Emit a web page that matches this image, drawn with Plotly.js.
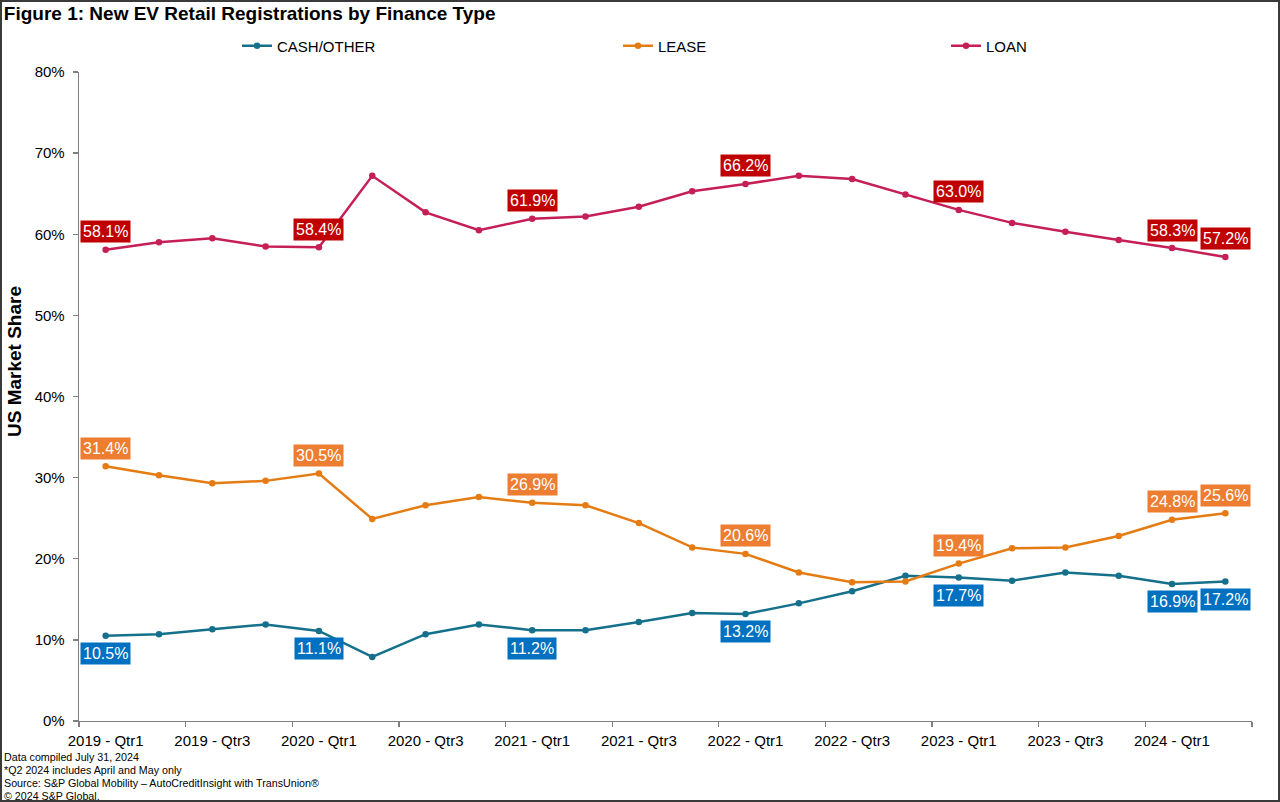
<!DOCTYPE html>
<html>
<head>
<meta charset="utf-8">
<script src="https://cdn.plot.ly/plotly-3.0.1.min.js"></script>
<style>
  html, body { margin: 0; padding: 0; background: #fff; }
  #wrap { position: relative; width: 1280px; height: 802px; }
  #chart { width: 1280px; height: 802px; }
  #frame { position: absolute; left: 0; top: 0; width: 1280px; height: 802px; box-sizing: border-box; border: 2px solid #3a3a3a; pointer-events: none; }
</style>
</head>
<body>
<div id="wrap"><div id="chart"></div><div id="frame"></div></div>
<script>
const categories = [
  "2019 - Qtr1","2019 - Qtr2","2019 - Qtr3","2019 - Qtr4",
  "2020 - Qtr1","2020 - Qtr2","2020 - Qtr3","2020 - Qtr4",
  "2021 - Qtr1","2021 - Qtr2","2021 - Qtr3","2021 - Qtr4",
  "2022 - Qtr1","2022 - Qtr2","2022 - Qtr3","2022 - Qtr4",
  "2023 - Qtr1","2023 - Qtr2","2023 - Qtr3","2023 - Qtr4",
  "2024 - Qtr1","2024 - Qtr2"
];
const cashOther = [10.5,10.7,11.3,11.9,11.1,7.9,10.7,11.9,11.2,11.2,12.2,13.3,13.2,14.5,16.0,17.9,17.7,17.3,18.3,17.9,16.9,17.2];
const lease     = [31.4,30.3,29.3,29.6,30.5,24.9,26.6,27.6,26.9,26.6,24.4,21.4,20.6,18.3,17.1,17.2,19.4,21.3,21.4,22.8,24.8,25.6];
const loan      = [58.1,59.0,59.5,58.5,58.4,67.2,62.7,60.5,61.9,62.2,63.4,65.3,66.2,67.2,66.8,64.9,63.0,61.4,60.3,59.3,58.3,57.2];
const labelIdx  = [0,4,8,12,16,20,21];
const xTickLabels = categories.filter((c,i) => i % 2 === 0);
const yTicks = [0,10,20,30,40,50,60,70,80];
const yTickLabels = yTicks.map(v => v + "%");
const footnotes = [
  "Data compiled July 31, 2024",
  "*Q2 2024 includes April and May only",
  "Source: S&P Global Mobility \u2013 AutoCreditInsight with TransUnion\u00ae",
  "\u00a9 2024 S&P Global."
];

const FONT = "Arial, 'Liberation Sans', sans-serif";
const colCash = "#15708C", colLease = "#E57C13", colLoan = "#C51F55";
const boxCash = "#0070C0", boxLease = "#ED7D31", boxLoan = "#C00000";

function trace(name, ys, color, legend) {
  return {
    type: "scatter", mode: "lines+markers", name: name,
    x: categories, y: ys, xaxis: "x", yaxis: "y",
    line: {color: color, width: 2.5},
    marker: {color: color, size: 6.5},
    legend: legend, hoverinfo: "skip"
  };
}
const data = [
  trace("CASH/OTHER", cashOther, colCash, "legend"),
  trace("LEASE", lease, colLease, "legend2"),
  trace("LOAN", loan, colLoan, "legend3"),
  {type: "scatter", mode: "markers", x: [-0.5, categories.length - 0.5], y: [0, 0], xaxis: "x2", yaxis: "y",
   marker: {opacity: 0}, showlegend: false, hoverinfo: "skip"}
];

const annotations = [];
function addLabels(ys, bg, shift) {
  labelIdx.forEach(i => {
    annotations.push({
      x: categories[i], y: ys[i], xref: "x", yref: "y",
      text: ys[i].toFixed(1) + "%", showarrow: false,
      yshift: shift, bgcolor: bg, borderpad: 2,
      font: {family: FONT, size: 16, color: "#ffffff"}
    });
  });
}
addLabels(loan, boxLoan, 18);
addLabels(lease, boxLease, 18);
addLabels(cashOther, boxCash, -18);

const plotL = 79, plotR = 1252, plotT = 72, plotB = 721;
const pw = plotR - plotL, ph = plotB - plotT;
const footY = [757, 770, 783, 796];
footnotes.forEach((t, k) => {
  annotations.push({
    text: t, xref: "paper", yref: "paper",
    x: (2 - plotL) / pw, y: (plotB - footY[k]) / ph,
    xanchor: "left", yanchor: "middle", showarrow: false,
    font: {family: FONT, size: 10.7, color: "#000"}
  });
});
annotations.push({
  text: "<b>US Market Share</b>", xref: "paper", yref: "paper",
  x: (14 - plotL) / pw, y: (plotB - 362) / ph,
  xanchor: "center", yanchor: "middle", textangle: -90, showarrow: false,
  font: {family: FONT, size: 19, color: "#000"}
});

const boundaries = [];
for (let b = -0.5; b <= categories.length - 0.5; b += 2) boundaries.push(b);

const legendCommon = {orientation: "h", yanchor: "middle", xanchor: "left",
  font: {family: FONT, size: 15, color: "#000"}, bgcolor: "rgba(0,0,0,0)", itemwidth: 30};

const layout = {
  width: 1280, height: 802,
  margin: {l: plotL, r: 1280 - plotR, t: plotT, b: 802 - plotB, pad: 0},
  paper_bgcolor: "#ffffff", plot_bgcolor: "#ffffff",
  font: {family: FONT, color: "#000"},
  title: {
    text: "<b>Figure 1: New EV Retail Registrations by Finance Type</b>",
    x: 0.003, xref: "container", xanchor: "left",
    y: 1 - 13 / 802, yref: "container", yanchor: "middle",
    font: {family: FONT, size: 19, color: "#000"}
  },
  xaxis: {
    type: "category", range: [-0.5, categories.length - 0.5],
    tickmode: "array", tickvals: xTickLabels, ticktext: xTickLabels,
    ticks: "", showgrid: false, zeroline: false,
    showline: true, linecolor: "#7f7f7f", linewidth: 1.3,
    tickfont: {family: FONT, size: 15, color: "#000"},
    ticklabelstandoff: 6, fixedrange: true
  },
  xaxis2: {
    overlaying: "x", anchor: "y", side: "bottom", type: "linear",
    range: [-0.5, categories.length - 0.5],
    tickmode: "array", tickvals: boundaries, showticklabels: false,
    ticks: "outside", ticklen: 5, tickwidth: 1.3, tickcolor: "#7f7f7f",
    showgrid: false, zeroline: false, showline: false
  },
  yaxis: {
    range: [0, 80], tickmode: "array", tickvals: yTicks, ticktext: yTickLabels,
    ticks: "outside", ticklen: 5, tickwidth: 1.3, tickcolor: "#7f7f7f",
    showline: true, linecolor: "#7f7f7f", linewidth: 1.3,
    showgrid: false, zeroline: false,
    tickfont: {family: FONT, size: 15, color: "#000"},
    ticklabelstandoff: 5,
    automargin: false
  },
  legend:  Object.assign({x: (237 - plotL) / pw, y: (plotB - 46) / ph}, legendCommon),
  legend2: Object.assign({x: (618 - plotL) / pw, y: (plotB - 46) / ph}, legendCommon),
  legend3: Object.assign({x: (946 - plotL) / pw, y: (plotB - 46) / ph}, legendCommon),
  annotations: annotations,
  showlegend: true
};

Plotly.newPlot("chart", data, layout, {displayModeBar: false, staticPlot: true});
</script>
</body>
</html>
